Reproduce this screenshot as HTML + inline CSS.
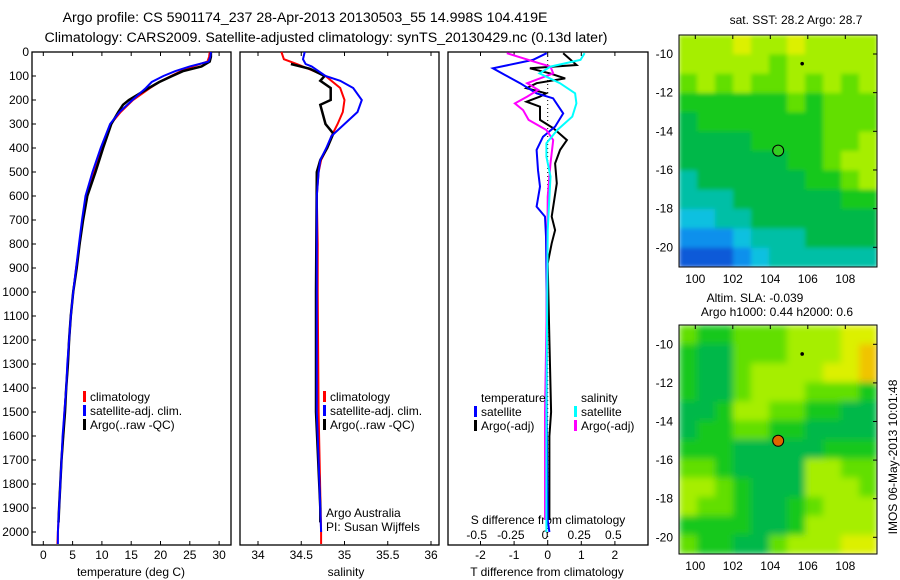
<!DOCTYPE html>
<html><head><meta charset="utf-8"><style>
body{margin:0;background:#fff;}
svg{display:block;font-family:"Liberation Sans",sans-serif;font-size:12px;}
</style></head><body>
<svg id="s" width="900" height="580" xmlns="http://www.w3.org/2000/svg">
<defs>
<filter id="blurA" filterUnits="userSpaceOnUse" x="679" y="35" width="198" height="232"><feGaussianBlur stdDeviation="2" edgeMode="duplicate"/></filter>
<filter id="blurB" filterUnits="userSpaceOnUse" x="679" y="325" width="198" height="229"><feGaussianBlur stdDeviation="3.5" edgeMode="duplicate"/></filter>
</defs>
<text x="305" y="22" text-anchor="middle" style="font-size:14.2px">Argo profile: CS 5901174_237 28-Apr-2013 20130503_55 14.998S 104.419E</text>
<text x="326" y="42" text-anchor="middle" style="font-size:14.2px">Climatology: CARS2009. Satellite-adjusted climatology: synTS_20130429.nc (0.13d later)</text>
<text x="131" y="576" text-anchor="middle">temperature (deg C)</text>
<text x="346" y="576" text-anchor="middle">salinity</text>
<text x="547" y="576" text-anchor="middle">T difference from climatology</text>
<text x="548" y="524" text-anchor="middle">S difference from climatology</text>
<text x="326" y="517">Argo Australia</text>
<text x="326" y="531">PI: Susan Wijffels</text>
<text x="796" y="24" text-anchor="middle">sat. SST: 28.2 Argo: 28.7</text>
<text x="755" y="302" text-anchor="middle">Altim. SLA: -0.039</text>
<text x="777" y="316" text-anchor="middle">Argo h1000: 0.44 h2000: 0.6</text>
<text transform="translate(897,457) rotate(-90)" text-anchor="middle">IMOS 06-May-2013 10:01:48</text>
</svg>
<script>
// ---- data ----
const tDepth=[0,20,40,60,80,100,125,150,200,250,300,400,500,600,700,800,900,1000,1100,1200,1300,1400,1500,1600,1700,1800,1900,2000,2050];
const tClim=[28.4,28.3,28,25.5,23.5,21.8,19.8,18.2,15.3,13.2,11.5,10,8.6,7.4,6.7,6.2,5.6,5.1,4.7,4.4,4.2,3.9,3.6,3.4,3.1,2.9,2.7,2.5,2.4];
const tSat=[28.6,28.5,28.2,25,22.5,20.5,18.5,17.5,15.2,13,11.4,9.8,8.4,7.2,6.6,6.1,5.6,5.1,4.7,4.4,4.1,3.9,3.6,3.3,3.1,2.9,2.7,2.5,2.5];
const tArgoDepth=[0,20,40,60,80,100,125,150,200,220,250,300,400,500,600,700,800,900,1000,1100,1200,1300,1400,1500,1600,1700,1800,1900,1960];
const tArgo=[28.6,28.6,28.4,27,23.8,22,19.8,18,14.6,13.6,12.8,11.6,10.2,8.9,7.5,6.8,6.2,5.7,5.1,4.7,4.4,4.2,3.9,3.7,3.4,3.1,2.9,2.7,2.6];
const sClimDepth=[0,30,50,80,100,150,200,250,300,350,400,450,500,600,800,1000,1500,2000,2050];
const sClim=[34.27,34.3,34.45,34.65,34.78,34.95,35.0,34.98,34.92,34.85,34.8,34.73,34.7,34.68,34.69,34.69,34.7,34.73,34.73];
const sSatDepth=[0,30,50,60,100,120,150,200,250,300,350,400,450,500,600,1000,1500,1700,2000];
const sSat=[34.54,34.52,34.55,34.62,34.78,34.95,35.1,35.2,35.15,35.0,34.85,34.79,34.72,34.7,34.68,34.68,34.68,34.7,34.73];
const sArgoDepth=[50,70,100,120,150,200,220,300,340,400,450,500,1000,1500,1900,1960];
const sArgo=[34.38,34.6,34.77,34.72,34.84,34.84,34.72,34.78,34.87,34.8,34.72,34.68,34.67,34.67,34.72,34.72];
const dTSatDepth=[5,33,68,96,130,172,193,256,311,353,408,492,561,644,686,769,1000,1500,1950,2000];
const dTSat=[-0.03,-0.44,-1.63,-1.27,-0.82,-0.33,0.16,0.46,0.22,-0.14,-0.33,-0.29,-0.23,-0.33,-0.08,-0.05,-0.03,-0.03,0.0,0.05];
const dTArgoDepth=[5,54,68,89,110,130,151,172,186,207,228,283,318,367,408,464,547,686,742,797,881,1200,1500,1600,1950];
const dTArgo=[0.46,0.86,-0.53,0.07,0.52,-0.33,-0.63,-0.05,-0.23,-0.63,-0.23,-0.23,0.17,0.57,0.37,0.22,0.27,0.12,0.22,0.12,0.0,0.05,0.1,0.05,0.05];
const dSSatDepth=[5,33,61,89,130,172,214,269,325,380,436,519,742,1500,2000];
const dSSat=[0.29,0.26,0.04,-0.04,0.11,0.22,0.23,0.2,0.09,0.01,0.01,0.04,0.02,0.01,0.01];
const dSArgoDepth=[5,47,61,89,130,158,186,214,242,283,325,367,464,603,1000,1500,1950];
const dSArgo=[-0.28,-0.04,0.04,0.06,-0.13,-0.05,-0.13,-0.22,-0.16,-0.12,0.01,0.06,0.04,0.02,0.015,0.0,0.0];
const depthTicks=[0,100,200,300,400,500,600,700,800,900,1000,1100,1200,1300,1400,1500,1600,1700,1800,1900,2000];
const tTicks=[0,5,10,15,20,25,30];
const sTicks=[34,34.5,35,35.5,36];
const sTickLabels=["34","34.5","35","35.5","36"];
const dtTicks=[-2,-1,0,1,2];
const dsTicks=[-0.5,-0.25,0,0.25,0.5];
const dsTickLabels=["-0.5","-0.25","0","0.25","0.5"];
const lonTicks=[100,102,104,106,108];
const latTicks=[-10,-12,-14,-16,-18,-20];
const argoLon=104.42, argoLat=-15.0;
const sstGrid=["88898898888","88888788888","78787787878","66666676777","56666666777","55556666778","55555566788","45555556678","44455555566","33445555555","22234445555","11123444444"];
const slaGrid=["76677788899","6557778889A","6557888899A","65578887776","55688776655","56677665555","66655555666","77655558877","88765558887","87765567888","66665568888","76655788899"];
const palette={"1":"#0a5ad8","2":"#0a90ec","3":"#08c0e0","4":"#00bfa6","5":"#00b848","6":"#12c81e","7":"#62df00","8":"#a6ee00","9":"#dcf000","A":"#f0c400"};
// ---- scales ----
const Y0=52, PY=0.24; const yD=d=>Y0+d*PY;
const xT=v=>43.3+v*5.86, xS=v=>258+(v-34)*86.5, xDT=v=>547.7+v*33.6, xDS=v=>545+v*136.6;
const lonX=v=>695.3+(v-100)*18.75;
const latY1=v=>54+(-10-v)*19.33, latY2=v=>344.3+(-10-v)*19.3;
const NS="http://www.w3.org/2000/svg", svg=document.getElementById('s');
function mk(t,a,parent){const e=document.createElementNS(NS,t);for(const k in a)e.setAttribute(k,a[k]);(parent||svg).appendChild(e);return e;}
function txt(x,y,s,anchor){const e=mk('text',{x:x,y:y,'text-anchor':anchor||'middle'});e.textContent=s;return e;}
function line(xs,ds,sx,color,name,w){
  const pts=xs.map((v,i)=>sx(v).toFixed(1)+','+yD(ds[i]).toFixed(1)).join(' ');
  const e=mk('polyline',{points:pts,fill:'none',stroke:color,'stroke-width':w||2});
  
  
}
const panels=[[32,231,'temperature-panel'],[240,439,'salinity-panel'],[448,648,'difference-panel']];
panels.forEach(p=>{const r=mk('rect',{x:p[0],y:52,width:p[1]-p[0],height:493,fill:'none',stroke:'#000','stroke-width':1.3});
  
  });
depthTicks.forEach(d=>{const t=txt(29,yD(d)+4,String(d),'end');
  
  
  mk('line',{x1:32,x2:36,y1:yD(d),y2:yD(d),stroke:'#000'});});
function xticks(vals,labels,sx,name,ly,both){vals.forEach((v,i)=>{const x=sx(v);
  mk('line',{x1:x,x2:x,y1:545,y2:541,stroke:'#000'});
  if(both)mk('line',{x1:x,x2:x,y1:52,y2:56,stroke:'#000'});
  const t=txt(x,ly,labels[i]);
  
  });}
xticks(tTicks,tTicks.map(String),xT,'temperature-tick-label',559,true);
xticks(sTicks,sTickLabels,xS,'salinity-tick-label',559,true);
xticks(dtTicks,dtTicks.map(String),xDT,'t-diff-tick-label',559,true);
dsTicks.forEach((v,i)=>{const t=txt(xDS(v),539,dsTickLabels[i]);
  
  });
mk('line',{x1:xDT(0),x2:xDT(0),y1:52,y2:545,stroke:'#000','stroke-dasharray':'1,3'});
line(tClim,tDepth,xT,'#f00','temperature-climatology-line');
line(tArgo,tArgoDepth,xT,'#000','temperature-argo-line',2.5);
line(tSat,tDepth,xT,'#00f','temperature-satellite-line');
line(sClim,sClimDepth,xS,'#f00','salinity-climatology-line');
line(sArgo,sArgoDepth,xS,'#000','salinity-argo-line',2.5);
line(sSat,sSatDepth,xS,'#00f','salinity-satellite-line');
line(dTArgo,dTArgoDepth,xDT,'#000','t-diff-argo-line');
line(dTSat,dTSatDepth,xDT,'#00f','t-diff-satellite-line');
line(dSArgo,dSArgoDepth,xDS,'#f0f','s-diff-argo-line');
line(dSSat,dSSatDepth,xDS,'#0ff','s-diff-satellite-line');
function leg(x,y,c,s,name){if(c)mk('rect',{x:x-7,y:y-10,width:3,height:11,fill:c});const t=txt(x,y,s,'start');
  
  }
[90,330].forEach(x=>{leg(x,401,'#f00','climatology','legend-climatology');leg(x,415,'#00f','satellite-adj. clim.','legend-satellite-adj');leg(x,429,'#000','Argo(..raw -QC)','legend-argo');});
leg(481,402,null,'temperature','legend-temperature-header');
leg(481,416,'#00f','satellite','legend-t-satellite');
leg(481,430,'#000','Argo(-adj)','legend-t-argo');
leg(581,402,null,'salinity','legend-salinity-header');
leg(581,416,'#0ff','satellite','legend-s-satellite');
leg(581,430,'#f0f','Argo(-adj)','legend-s-argo');
function map(grid,top,bottom,latY,fillC,name,filt){
  const L=679,R=877,rows=grid.length,cols=grid[0].length,cw=(R-L)/cols,ch=(bottom-top)/rows;
  const g=mk('g',{filter:'url(#'+filt+')'});
  grid.forEach((row,r)=>{for(let c=0;c<cols;c++){const e=mk('rect',{x:L+c*cw,y:top+r*ch,width:cw+0.5,height:ch+0.5,fill:palette[row[c]]},g);
    
    }});
  const f=mk('rect',{x:L,y:top,width:R-L,height:bottom-top,fill:'none',stroke:'#000'});
  
  
  lonTicks.forEach(v=>{const x=lonX(v);mk('line',{x1:x,x2:x,y1:top,y2:top+4,stroke:'#000'});
    const t=txt(x,bottom+16,String(v));
    
    });
  latTicks.forEach(v=>{const y=latY(v);mk('line',{x1:R,x2:R-4,y1:y,y2:y,stroke:'#000'});
    const t=txt(673,y+4,String(v),'end');
    
    });
  mk('circle',{cx:lonX(105.7),cy:latY(-10.5),r:1.8,fill:'#000'});
  const m=mk('circle',{cx:lonX(argoLon),cy:latY(argoLat),r:5.5,fill:fillC,stroke:'#000'});
  
  
}
map(sstGrid,35,267,latY1,'#33cc22','sst-map','blurA');
map(slaGrid,325,554,latY2,'#dd6600','sla-map','blurB');
</script>
</body></html>
